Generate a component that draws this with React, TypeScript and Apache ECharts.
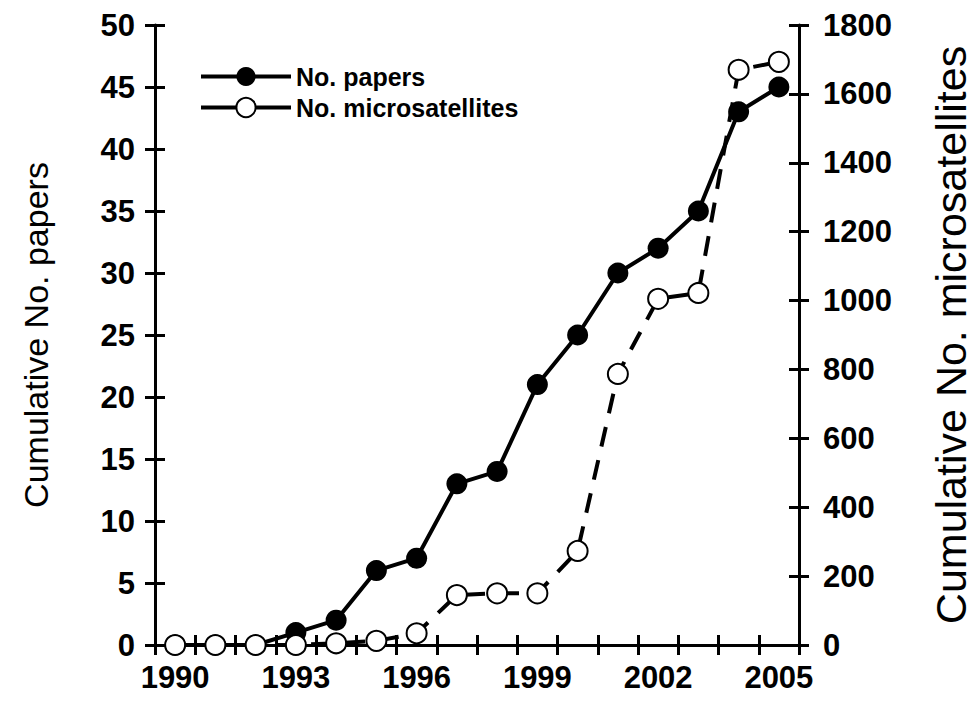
import React, { useEffect, useRef } from "react";
import * as echarts from "echarts";

const years = ["1990","1991","1992","1993","1994","1995","1996","1997","1998","1999","2000","2001","2002","2003","2004","2005"];
const papers = [0, 0, 0, 1, 2, 6, 7, 13, 14, 21, 25, 30, 32, 35, 43, 45];
const microsatellites = [0, 0, 0, 0, 5, 12, 34, 145, 150, 150, 273, 787, 1005, 1022, 1670, 1693];
const leftAxis = { min: 0, max: 50, interval: 5 };
const rightAxis = { min: 0, max: 1800, interval: 200 };
const seriesNames = ["No. papers", "No. microsatellites"];
const axisNames = ["Cumulative No. papers", "Cumulative No. microsatellites"];

const FONT = "'Liberation Sans', Arial, sans-serif";

export default function App() {
  const ref = useRef<HTMLDivElement>(null);
  useEffect(() => {
    if (!ref.current) return;
    const chart = echarts.init(ref.current, undefined, { renderer: "svg" });
    const lineCommon = { lineStyle: { color: "#000", width: 3 } };
    const tickCommon = { lineStyle: { color: "#000", width: 3 } };
    const tickLabel = {
      color: "#000",
      fontFamily: FONT,
      fontWeight: "bold" as const,
      fontSize: 31,
      formatter: (v: any) => String(v),
    };
    chart.setOption({
      animation: false,
      backgroundColor: "#fff",
      grid: { left: 155, right: 174, top: 25, bottom: 65, containLabel: false },
      legend: {
        orient: "vertical",
        left: 194,
        top: 59,
        itemWidth: 90,
        itemHeight: 24,
        itemGap: 6,
        lineStyle: { type: "solid", width: 4, color: "#000" },
        textStyle: { color: "#000", fontFamily: FONT, fontWeight: "bold", fontSize: 25 },
        data: seriesNames,
      },
      xAxis: [
        {
          type: "category",
          data: years,
          position: "bottom",
          boundaryGap: true,
          axisLine: { show: true, ...lineCommon },
          axisTick: { show: true, interval: 0, length: 10, ...tickCommon },
          axisLabel: { interval: 2, margin: 17, ...tickLabel },
          splitLine: { show: false },
        },
        {
          type: "category",
          data: years,
          position: "bottom",
          boundaryGap: true,
          axisLine: { show: false },
          axisTick: { show: true, inside: true, interval: 0, length: 10, ...tickCommon },
          axisLabel: { show: false },
          splitLine: { show: false },
        },
      ],
      yAxis: [
        {
          type: "value",
          position: "left",
          ...leftAxis,
          name: axisNames[0],
          nameLocation: "middle",
          nameRotate: 90,
          nameGap: 102,
          nameTextStyle: { color: "#000", fontFamily: FONT, fontSize: 34 },
          axisLine: { show: true, ...lineCommon },
          axisTick: { show: true, length: 10, ...tickCommon },
          axisLabel: { margin: 20, ...tickLabel },
          splitLine: { show: false },
        },
        {
          type: "value",
          position: "right",
          ...rightAxis,
          name: axisNames[1],
          nameLocation: "middle",
          nameRotate: 90,
          nameGap: 130,
          nameTextStyle: { color: "#000", fontFamily: FONT, fontSize: 43 },
          axisLine: { show: true, ...lineCommon },
          axisTick: { show: true, length: 10, ...tickCommon },
          axisLabel: { margin: 24, ...tickLabel },
          splitLine: { show: false },
        },
        {
          type: "value",
          position: "left",
          ...leftAxis,
          axisLine: { show: false },
          axisTick: { show: true, inside: true, length: 10, ...tickCommon },
          axisLabel: { show: false },
          splitLine: { show: false },
        },
        {
          type: "value",
          position: "right",
          ...rightAxis,
          axisLine: { show: false },
          axisTick: { show: true, inside: true, length: 10, ...tickCommon },
          axisLabel: { show: false },
          splitLine: { show: false },
        },
      ],
      series: [
        {
          name: seriesNames[0],
          type: "line",
          xAxisIndex: 0,
          yAxisIndex: 0,
          data: papers,
          symbol: "circle",
          symbolSize: 21,
          itemStyle: { color: "#000" },
          lineStyle: { color: "#000", width: 4 },
        },
        {
          name: seriesNames[1],
          type: "line",
          xAxisIndex: 0,
          yAxisIndex: 1,
          data: microsatellites,
          symbol: "circle",
          symbolSize: 20,
          itemStyle: { color: "#fff", borderColor: "#000", borderWidth: 2 },
          lineStyle: { color: "#000", width: 4, type: [20, 14] },
        },
      ],
    });
    return () => chart.dispose();
  }, []);
  return <div ref={ref} style={{ position: "fixed", left: 0, top: 0, width: 980, height: 710 }} />;
}
